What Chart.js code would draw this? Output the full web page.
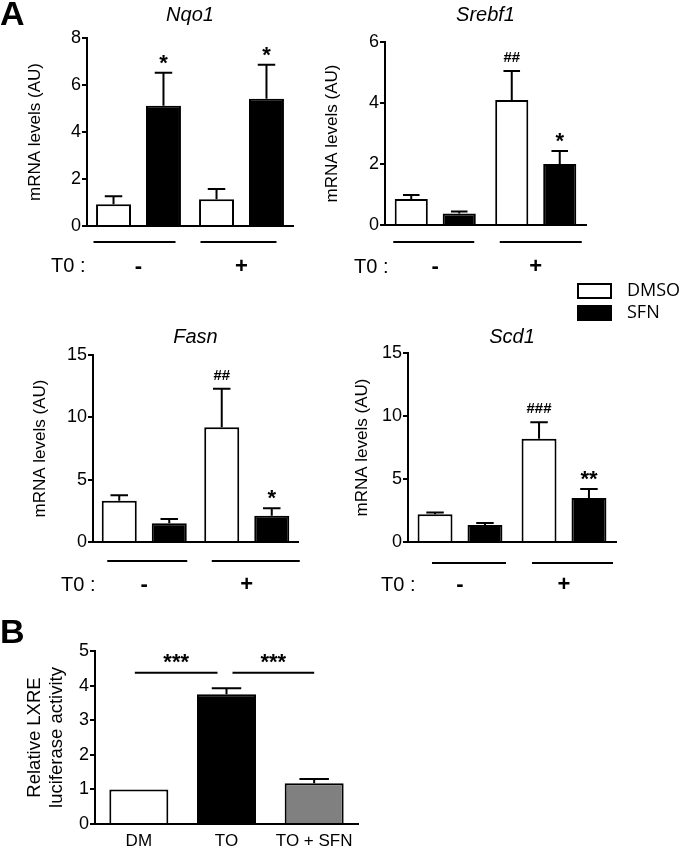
<!DOCTYPE html>
<html>
<head>
<meta charset="utf-8">
<script src="https://cdn.jsdelivr.net/npm/chart.js@4"></script>
<style>
  body { margin: 0; background: #fff; width: 680px; height: 847px; position: relative; overflow: hidden; }
  canvas { position: absolute; }
</style>
</head>
<body>
<canvas id="nqo1"></canvas>
<canvas id="srebf1"></canvas>
<canvas id="fasn"></canvas>
<canvas id="scd1"></canvas>
<canvas id="lxre"></canvas>
<script>
// ---- data (panel A: T0 - / +, DMSO vs SFN) ----
var groupsA = ['-', '+']

var nqo1Dmso = [0.93, 1.14]
var nqo1DmsoErr = [0.34, 0.43]
var nqo1Sfn = [5.12, 5.42]
var nqo1SfnErr = [1.40, 1.44]
var nqo1DmsoSig = ['', '']
var nqo1SfnSig = ['*', '*']

var srebf1Dmso = [0.85, 4.10]
var srebf1DmsoErr = [0.13, 0.95]
var srebf1Sfn = [0.38, 2.00]
var srebf1SfnErr = [0.06, 0.43]
var srebf1DmsoSig = ['', '##']
var srebf1SfnSig = ['', '*']

var fasnDmso = [3.3, 9.2]
var fasnDmsoErr = [0.46, 3.1]
var fasnSfn = [1.5, 2.1]
var fasnSfnErr = [0.34, 0.6]
var fasnDmsoSig = ['', '##']
var fasnSfnSig = ['', '*']

var scd1Dmso = [2.2, 8.2]
var scd1DmsoErr = [0.15, 1.3]
var scd1Sfn = [1.35, 3.5]
var scd1SfnErr = [0.15, 0.7]
var scd1DmsoSig = ['', '###']
var scd1SfnSig = ['', '**']

// ---- data (panel B) ----
var groupsB = ['DM', 'TO', 'TO + SFN']
var lxreVals = [1.0, 3.75, 1.18]
var lxreErr = [0, 0.17, 0.12]
var lxreSig = ['***', '***']

var FAM = '"Liberation Sans", Arial, sans-serif'
Chart.defaults.font.family = FAM
Chart.defaults.color = '#000'

/*------------------------------*/
/*  extra drawing: error bars,  */
/*  stars, underlines, labels   */
/*------------------------------*/
var extras = {
  id: 'extras',
  afterDraw: function (chart, args, o) {
    var ctx = chart.ctx, x = chart.scales.x, y = chart.scales.y, a = chart.chartArea
    ctx.save()
    ctx.strokeStyle = '#000'
    ctx.fillStyle = '#000'
    ctx.lineWidth = 2

    chart.data.datasets.forEach(function (ds, i) {
      chart.getDatasetMeta(i).data.forEach(function (bar, j) {
        var e = ds.err ? ds.err[j] : 0
        var top = y.getPixelForValue(ds.data[j] + e)
        if (e) {
          var cap = bar.width / 4
          ctx.beginPath()
          ctx.moveTo(bar.x, bar.y)
          ctx.lineTo(bar.x, top)
          ctx.moveTo(bar.x - cap, top)
          ctx.lineTo(bar.x + cap, top)
          ctx.stroke()
        }
        var s = ds.sig ? ds.sig[j] : ''
        if (s) {
          var hash = s[0] === '#'
          ctx.font = hash ? 'bold 15px ' + FAM : 'bold 22px ' + FAM
          ctx.textAlign = 'center'
          ctx.textBaseline = 'alphabetic'
          ctx.fillText(s, bar.x, top - (hash ? 9 : 3))
        }
      })
    })

    if (o.title) {
      ctx.font = 'italic 20px ' + FAM
      ctx.textAlign = 'center'
      ctx.textBaseline = 'middle'
      ctx.fillText(o.title, (a.left + a.right) / 2, o.titleY)
    }
    if (o.letter) {
      ctx.font = 'bold 34px ' + FAM
      ctx.textAlign = 'left'
      ctx.textBaseline = 'alphabetic'
      ctx.fillText(o.letter, 0, o.letterY)
    }
    if (o.under) {
      o.under.forEach(function (u, j) {
        var c = x.getPixelForValue(j)
        ctx.beginPath()
        ctx.moveTo(c + u[0], o.underY)
        ctx.lineTo(c + u[1], o.underY)
        ctx.stroke()
      })
    }
    if (o.t0) {
      ctx.font = '20px ' + FAM
      ctx.textAlign = 'left'
      ctx.textBaseline = 'middle'
      ctx.fillText('T0 :', o.t0[0], o.t0[1])
    }
    if (o.sigLines) {
      var ly = y.getPixelForValue(o.sigValue)
      o.sigLines.forEach(function (l, k) {
        var x1 = x.getPixelForValue(l[0]) + l[2]
        var x2 = x.getPixelForValue(l[1]) + l[3]
        ctx.beginPath()
        ctx.moveTo(x1, ly)
        ctx.lineTo(x2, ly)
        ctx.stroke()
        ctx.font = 'bold 22px ' + FAM
        ctx.textAlign = 'center'
        ctx.textBaseline = 'alphabetic'
        ctx.fillText(o.sigText[k], (x1 + x2) / 2, ly - 4)
      })
    }
    if (o.legend) {
      ctx.font = '18px "Open Sans", sans-serif'
      ctx.textAlign = 'left'
      ctx.textBaseline = 'middle'
      chart.data.datasets.forEach(function (ds, i) {
        var ly = o.legend[1] + i * o.legend[3]
        ctx.fillStyle = ds.backgroundColor
        ctx.fillRect(o.legend[0], ly, 35, 16)
        ctx.strokeRect(o.legend[0] + 1, ly + 1, 33, 14)
        ctx.fillStyle = '#000'
        ctx.fillText(ds.label, o.legend[0] + 50, ly + 8)
      })
    }
    ctx.restore()
  }
}

function pair(dmso, dmsoErr, dmsoSig, sfn, sfnErr, sfnSig, cat, bar) {
  return [
    { label: 'DMSO', data: dmso, err: dmsoErr, sig: dmsoSig, backgroundColor: '#fff', borderColor: '#000', borderWidth: 2, categoryPercentage: cat, barPercentage: bar },
    { label: 'SFN', data: sfn, err: sfnErr, sig: sfnSig, backgroundColor: '#000', borderColor: '#000', borderWidth: 2, categoryPercentage: cat, barPercentage: bar }
  ]
}

// g: canvas box (L,T,W,H) and plot area (l,t,r,b), page pixels
function makeChart(id, g, labels, datasets, yMax, yStep, yTitle, titleFont, titleX, xFont, xPad, ex) {
  var cv = document.getElementById(id)
  cv.width = g.W
  cv.height = g.H
  cv.style.left = g.L + 'px'
  cv.style.top = g.T + 'px'
  var lh = titleFont.size * 1.2
  return new Chart(cv, {
    type: 'bar',
    data: { labels: labels, datasets: datasets },
    options: {
      responsive: false,
      animation: false,
      devicePixelRatio: 1,
      layout: { padding: { left: 0, top: g.t - g.T, right: g.L + g.W - g.r, bottom: 0 } },
      plugins: { legend: { display: false }, tooltip: { enabled: false }, extras: ex },
      scales: {
        x: {
          grid: { display: false, drawTicks: false },
          border: { color: '#000', width: 2 },
          ticks: { color: '#000', font: xFont, padding: xPad, maxRotation: 0, autoSkip: false },
          afterFit: function (s) { s.height = g.T + g.H - g.b }
        },
        y: {
          min: 0, max: yMax,
          ticks: { stepSize: yStep, color: '#000', font: { size: 18 }, padding: 1 },
          grid: { drawOnChartArea: false, color: '#000', lineWidth: 2, tickLength: 5 },
          border: { color: '#000', width: 2 },
          title: { display: true, text: yTitle, color: '#000', font: titleFont, padding: { top: titleX - g.L - lh / 2, bottom: 0 } },
          afterFit: function (s) { s.width = g.l - g.L }
        }
      }
    },
    plugins: [extras]
  })
}

/*------------------------------*/
/*        PANEL A CHARTS        */
/*------------------------------*/
var signFont = { size: 22, weight: 'bold' }

var gNqo1 = { L: 0, T: 0, W: 300, H: 290, l: 87, t: 38, r: 293, b: 226 }
makeChart('nqo1', gNqo1, groupsA,
  pair(nqo1Dmso, nqo1DmsoErr, nqo1DmsoSig, nqo1Sfn, nqo1SfnErr, nqo1SfnSig, 0.97, 0.7),
  8, 2, 'mRNA levels (AU)', { size: 17 }, 35, signFont, 28,
  { title: 'Nqo1', titleY: 15, letter: 'A', letterY: 25, under: [[-45, 37], [-41, 35]], underY: 242, t0: [51, 266] })

var gSrebf1 = { L: 300, T: 0, W: 380, H: 330, l: 385, t: 42, r: 586, b: 225 }
makeChart('srebf1', gSrebf1, groupsA,
  pair(srebf1Dmso, srebf1DmsoErr, srebf1DmsoSig, srebf1Sfn, srebf1SfnErr, srebf1SfnSig, 0.955, 0.69),
  6, 2, 'mRNA levels (AU)', { size: 17 }, 332, signFont, 29,
  { title: 'Srebf1', titleY: 15, under: [[-42, 39], [-36, 46]], underY: 242, t0: [54, 267], legend: [277, 283, 0, 22] })

var gFasn = { L: 0, T: 310, W: 320, H: 300, l: 93, t: 355, r: 298, b: 542 }
makeChart('fasn', gFasn, groupsA,
  pair(fasnDmso, fasnDmsoErr, fasnDmsoSig, fasnSfn, fasnSfnErr, fasnSfnSig, 0.976, 0.7),
  15, 5, 'mRNA levels (AU)', { size: 17 }, 40, signFont, 30,
  { title: 'Fasn', titleY: 27, under: [[-37, 43], [-35, 53]], underY: 251, t0: [61, 275] })

var gScd1 = { L: 330, T: 320, W: 350, H: 290, l: 408, t: 353, r: 616, b: 542 }
makeChart('scd1', gScd1, groupsA,
  pair(scd1Dmso, scd1DmsoErr, scd1DmsoSig, scd1Sfn, scd1SfnErr, scd1SfnSig, 0.96, 0.7),
  15, 5, 'mRNA levels (AU)', { size: 17 }, 362, signFont, 30,
  { title: 'Scd1', titleY: 17, under: [[-28, 46], [-32, 49]], underY: 243, t0: [51, 265] })

/*------------------------------*/
/*        PANEL B CHART         */
/*------------------------------*/
var gLxre = { L: 0, T: 615, W: 370, H: 232, l: 95, t: 651, r: 358, b: 824 }
makeChart('lxre', gLxre, groupsB,
  [{ label: 'LXRE', data: lxreVals, err: lxreErr, backgroundColor: ['#fff', '#000', '#808080'], borderColor: '#000', borderWidth: 2, categoryPercentage: 1, barPercentage: 0.673 }],
  5, 1, ['Relative LXRE', 'luciferase activity'], { size: 18.5 }, 35, { size: 17 }, 7,
  { letter: 'B', letterY: 28, sigLines: [[0, 1, -4, -9], [1, 2, 6, 0]], sigValue: 4.37, sigText: lxreSig })
</script>
</body>
</html>
